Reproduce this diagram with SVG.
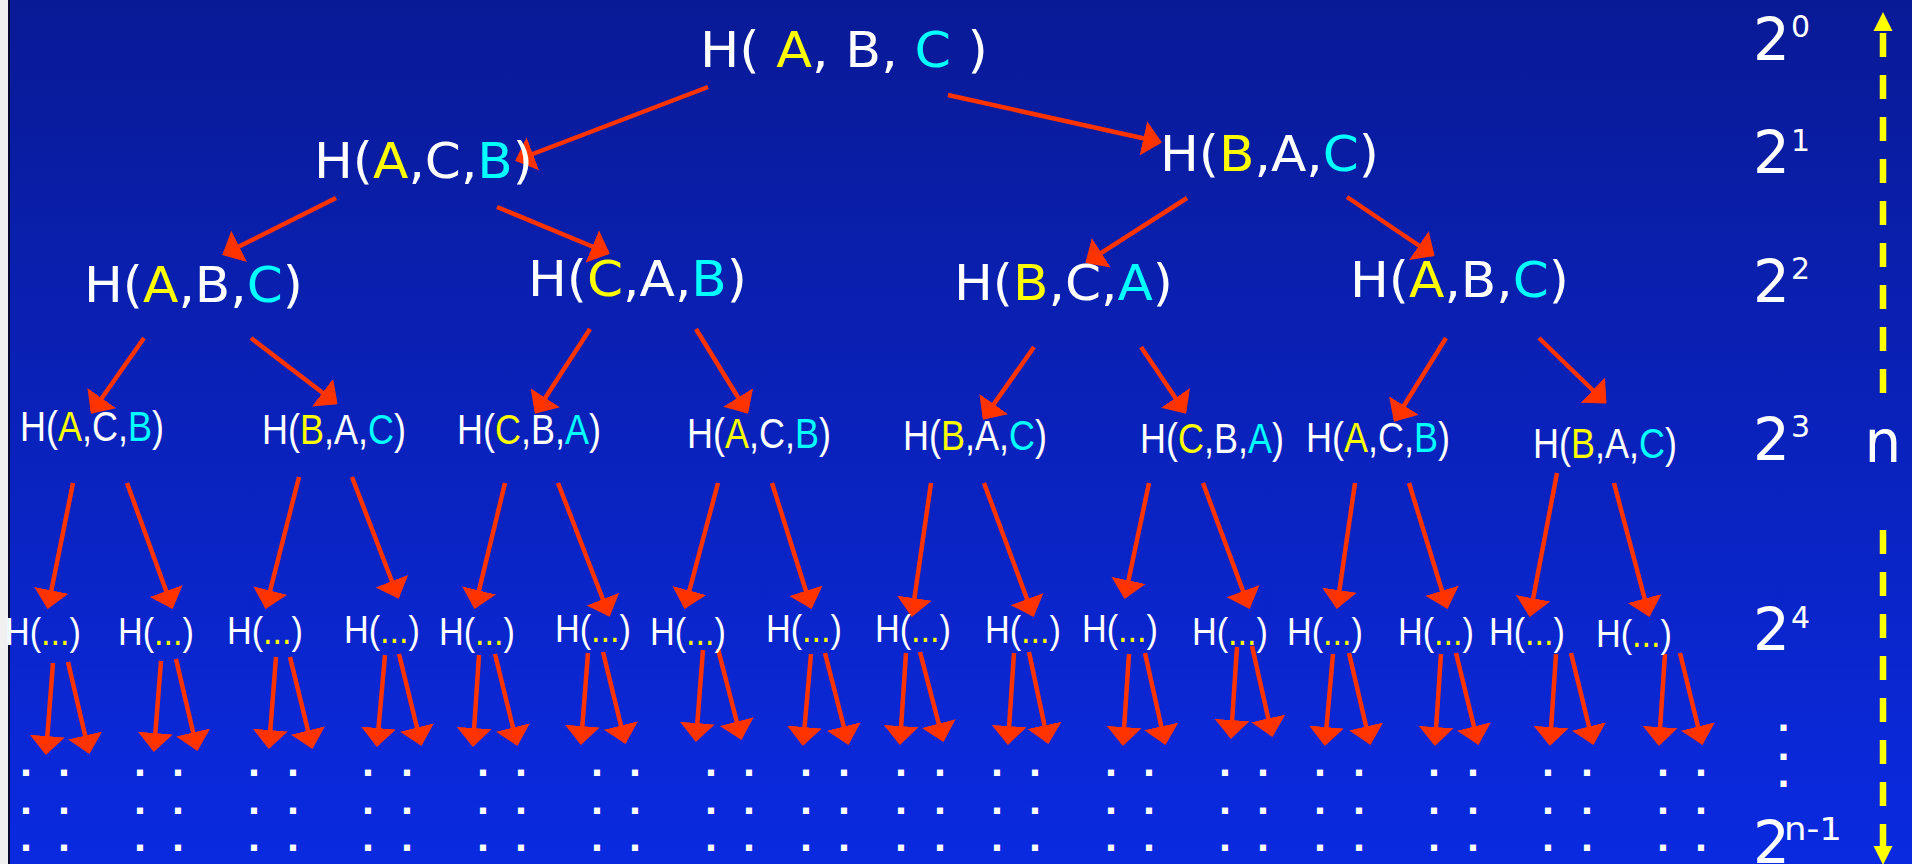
<svg xmlns="http://www.w3.org/2000/svg" width="1912" height="864" viewBox="0 0 1912 864">
<defs>
<linearGradient id="bg" x1="0" y1="0" x2="0" y2="1">
<stop offset="0" stop-color="#091a96"/>
<stop offset="1" stop-color="#0a2ae0"/>
</linearGradient>
<marker id="ah" markerUnits="userSpaceOnUse" viewBox="0 -18 19 36" markerWidth="19" markerHeight="36" refX="17" refY="0" orient="auto">
<path d="M0,-17.5 L19,0 L0,17.5 Z" fill="#ff3300"/>
</marker>
<marker id="yh" markerUnits="userSpaceOnUse" viewBox="0 -10 19 20" markerWidth="19" markerHeight="20" refX="0" refY="0" orient="auto">
<path d="M0,-9.5 L19,0 L0,9.5 Z" fill="#ffff00"/>
</marker>
<style>
.r{stroke:#ff3300;stroke-width:4.5;fill:none;marker-end:url(#ah)}
.big{font-family:"DejaVu Sans",Verdana,sans-serif;font-size:50px;fill:#ffffff}
.mid{font-family:"Liberation Sans",Arial,sans-serif;font-size:43px;fill:#ffffff}
.sm{font-family:"Liberation Sans",Arial,sans-serif;font-size:38px;fill:#ffffff}
.y{fill:#ffff00}
.c{fill:#00ffff}
.lbl{font-family:"DejaVu Sans",Verdana,sans-serif;font-size:58px;fill:#ffffff}
.sup{font-size:30px}
.dot{font-family:"DejaVu Sans",Verdana,sans-serif;font-weight:bold;font-size:34px;fill:#ffffff;text-anchor:middle}
.ya{stroke:#ffff00;stroke-width:6.5;stroke-dasharray:24 18;fill:none;marker-end:url(#yh)}
</style>
</defs>
<rect x="0" y="0" width="1912" height="864" fill="url(#bg)"/>
<rect x="0" y="0" width="8" height="864" fill="#f0f0f0"/>
<rect x="8" y="0" width="2" height="864" fill="#0a0a30"/>

<g id="connectors">
<line class="r" x1="708" y1="87" x2="517" y2="160"/>
<line class="r" x1="948" y1="95" x2="1160" y2="142"/>

<line class="r" x1="336" y1="198" x2="224" y2="254"/>
<line class="r" x1="497" y1="207" x2="608" y2="253"/>
<line class="r" x1="1187" y1="198" x2="1087" y2="262"/>
<line class="r" x1="1347" y1="197" x2="1433" y2="255"/>

<line class="r" x1="144" y1="338" x2="92" y2="412"/>
<line class="r" x1="251" y1="338" x2="336" y2="403"/>
<line class="r" x1="590" y1="329" x2="536" y2="412"/>
<line class="r" x1="696" y1="329" x2="747" y2="412"/>
<line class="r" x1="1034" y1="347" x2="984" y2="418"/>
<line class="r" x1="1141" y1="347" x2="1185" y2="412"/>
<line class="r" x1="1446" y1="338" x2="1395" y2="420"/>
<line class="r" x1="1539" y1="338" x2="1605" y2="402"/>

<line class="r" x1="73" y1="483" x2="48" y2="607"/>
<line class="r" x1="127" y1="483" x2="172" y2="607"/>
<line class="r" x1="299" y1="477" x2="266" y2="607"/>
<line class="r" x1="352" y1="477" x2="398" y2="597"/>
<line class="r" x1="505" y1="483" x2="475" y2="607"/>
<line class="r" x1="558" y1="483" x2="609" y2="615"/>
<line class="r" x1="718" y1="483" x2="685" y2="607"/>
<line class="r" x1="772" y1="483" x2="811" y2="607"/>
<line class="r" x1="931" y1="483" x2="912" y2="615"/>
<line class="r" x1="984" y1="483" x2="1033" y2="615"/>
<line class="r" x1="1149" y1="483" x2="1125" y2="597"/>
<line class="r" x1="1203" y1="483" x2="1249" y2="607"/>
<line class="r" x1="1355" y1="483" x2="1337" y2="607"/>
<line class="r" x1="1409" y1="483" x2="1447" y2="607"/>
<line class="r" x1="1557" y1="473" x2="1530" y2="615"/>
<line class="r" x1="1614" y1="483" x2="1649" y2="615"/>

<line class="r" x1="53" y1="663" x2="46" y2="753"/>
<line class="r" x1="68" y1="662" x2="89" y2="752"/>
<line class="r" x1="161" y1="661" x2="154" y2="750"/>
<line class="r" x1="176" y1="659" x2="197" y2="749"/>
<line class="r" x1="276" y1="657" x2="269" y2="747"/>
<line class="r" x1="290" y1="657" x2="312" y2="747"/>
<line class="r" x1="385" y1="655" x2="377" y2="745"/>
<line class="r" x1="399" y1="654" x2="421" y2="744"/>
<line class="r" x1="479" y1="655" x2="473" y2="745"/>
<line class="r" x1="495" y1="654" x2="517" y2="744"/>
<line class="r" x1="588" y1="653" x2="581" y2="743"/>
<line class="r" x1="603" y1="652" x2="625" y2="742"/>
<line class="r" x1="703" y1="650" x2="696" y2="740"/>
<line class="r" x1="718" y1="649" x2="741" y2="738"/>
<line class="r" x1="811" y1="654" x2="803" y2="744"/>
<line class="r" x1="825" y1="653" x2="848" y2="743"/>
<line class="r" x1="906" y1="653" x2="900" y2="743"/>
<line class="r" x1="920" y1="652" x2="943" y2="740"/>
<line class="r" x1="1014" y1="653" x2="1008" y2="743"/>
<line class="r" x1="1029" y1="652" x2="1048" y2="742"/>
<line class="r" x1="1129" y1="654" x2="1123" y2="744"/>
<line class="r" x1="1145" y1="653" x2="1165" y2="743"/>
<line class="r" x1="1237" y1="647" x2="1231" y2="737"/>
<line class="r" x1="1252" y1="646" x2="1272" y2="735"/>
<line class="r" x1="1333" y1="654" x2="1325" y2="744"/>
<line class="r" x1="1349" y1="653" x2="1370" y2="743"/>
<line class="r" x1="1441" y1="654" x2="1435" y2="744"/>
<line class="r" x1="1456" y1="653" x2="1478" y2="743"/>
<line class="r" x1="1556" y1="654" x2="1550" y2="744"/>
<line class="r" x1="1571" y1="653" x2="1593" y2="743"/>
<line class="r" x1="1665" y1="654" x2="1659" y2="744"/>
<line class="r" x1="1680" y1="653" x2="1702" y2="743"/>
</g>

<g id="n0"><text class="big" x="700" y="67" textLength="288" lengthAdjust="spacingAndGlyphs">H( <tspan class="y">A</tspan>, B, <tspan class="c">C</tspan> )</text></g>

<g id="n1a"><text class="big" x="314" y="178" textLength="219" lengthAdjust="spacingAndGlyphs">H(<tspan class="y">A</tspan>,C,<tspan class="c">B</tspan>)</text></g>
<g id="n1b"><text class="big" x="1160" y="171" textLength="219" lengthAdjust="spacingAndGlyphs">H(<tspan class="y">B</tspan>,A,<tspan class="c">C</tspan>)</text></g>

<g id="n2a"><text class="big" x="84" y="302" textLength="219" lengthAdjust="spacingAndGlyphs">H(<tspan class="y">A</tspan>,B,<tspan class="c">C</tspan>)</text></g>
<g id="n2b"><text class="big" x="528" y="296" textLength="219" lengthAdjust="spacingAndGlyphs">H(<tspan class="y">C</tspan>,A,<tspan class="c">B</tspan>)</text></g>
<g id="n2c"><text class="big" x="954" y="300" textLength="219" lengthAdjust="spacingAndGlyphs">H(<tspan class="y">B</tspan>,C,<tspan class="c">A</tspan>)</text></g>
<g id="n2d"><text class="big" x="1350" y="297" textLength="219" lengthAdjust="spacingAndGlyphs">H(<tspan class="y">A</tspan>,B,<tspan class="c">C</tspan>)</text></g>

<g id="n3a"><text class="mid" x="20" y="441" textLength="144" lengthAdjust="spacingAndGlyphs">H(<tspan class="y">A</tspan>,C,<tspan class="c">B</tspan>)</text></g>
<g id="n3b"><text class="mid" x="262" y="444" textLength="144" lengthAdjust="spacingAndGlyphs">H(<tspan class="y">B</tspan>,A,<tspan class="c">C</tspan>)</text></g>
<g id="n3c"><text class="mid" x="457" y="444" textLength="144" lengthAdjust="spacingAndGlyphs">H(<tspan class="y">C</tspan>,B,<tspan class="c">A</tspan>)</text></g>
<g id="n3d"><text class="mid" x="687" y="448" textLength="144" lengthAdjust="spacingAndGlyphs">H(<tspan class="y">A</tspan>,C,<tspan class="c">B</tspan>)</text></g>
<g id="n3e"><text class="mid" x="903" y="450" textLength="144" lengthAdjust="spacingAndGlyphs">H(<tspan class="y">B</tspan>,A,<tspan class="c">C</tspan>)</text></g>
<g id="n3f"><text class="mid" x="1140" y="453" textLength="144" lengthAdjust="spacingAndGlyphs">H(<tspan class="y">C</tspan>,B,<tspan class="c">A</tspan>)</text></g>
<g id="n3g"><text class="mid" x="1306" y="452" textLength="144" lengthAdjust="spacingAndGlyphs">H(<tspan class="y">A</tspan>,C,<tspan class="c">B</tspan>)</text></g>
<g id="n3h"><text class="mid" x="1533" y="458" textLength="144" lengthAdjust="spacingAndGlyphs">H(<tspan class="y">B</tspan>,A,<tspan class="c">C</tspan>)</text></g>

<g id="n4a"><text class="sm" x="5" y="645" textLength="76" lengthAdjust="spacingAndGlyphs">H(<tspan class="y">...</tspan>)</text></g>
<g id="n4b"><text class="sm" x="118" y="645" textLength="76" lengthAdjust="spacingAndGlyphs">H(<tspan class="y">...</tspan>)</text></g>
<g id="n4c"><text class="sm" x="227" y="644" textLength="76" lengthAdjust="spacingAndGlyphs">H(<tspan class="y">...</tspan>)</text></g>
<g id="n4d"><text class="sm" x="344" y="643" textLength="76" lengthAdjust="spacingAndGlyphs">H(<tspan class="y">...</tspan>)</text></g>
<g id="n4e"><text class="sm" x="439" y="645" textLength="76" lengthAdjust="spacingAndGlyphs">H(<tspan class="y">...</tspan>)</text></g>
<g id="n4f"><text class="sm" x="555" y="642" textLength="76" lengthAdjust="spacingAndGlyphs">H(<tspan class="y">...</tspan>)</text></g>
<g id="n4g"><text class="sm" x="650" y="645" textLength="76" lengthAdjust="spacingAndGlyphs">H(<tspan class="y">...</tspan>)</text></g>
<g id="n4h"><text class="sm" x="766" y="642" textLength="76" lengthAdjust="spacingAndGlyphs">H(<tspan class="y">...</tspan>)</text></g>
<g id="n4i"><text class="sm" x="875" y="642" textLength="76" lengthAdjust="spacingAndGlyphs">H(<tspan class="y">...</tspan>)</text></g>
<g id="n4j"><text class="sm" x="985" y="643" textLength="76" lengthAdjust="spacingAndGlyphs">H(<tspan class="y">...</tspan>)</text></g>
<g id="n4k"><text class="sm" x="1082" y="642" textLength="76" lengthAdjust="spacingAndGlyphs">H(<tspan class="y">...</tspan>)</text></g>
<g id="n4l"><text class="sm" x="1192" y="645" textLength="76" lengthAdjust="spacingAndGlyphs">H(<tspan class="y">...</tspan>)</text></g>
<g id="n4m"><text class="sm" x="1287" y="645" textLength="76" lengthAdjust="spacingAndGlyphs">H(<tspan class="y">...</tspan>)</text></g>
<g id="n4n"><text class="sm" x="1398" y="645" textLength="76" lengthAdjust="spacingAndGlyphs">H(<tspan class="y">...</tspan>)</text></g>
<g id="n4o"><text class="sm" x="1489" y="645" textLength="76" lengthAdjust="spacingAndGlyphs">H(<tspan class="y">...</tspan>)</text></g>
<g id="n4p"><text class="sm" x="1596" y="647" textLength="76" lengthAdjust="spacingAndGlyphs">H(<tspan class="y">...</tspan>)</text></g>

<g id="continuation">
<text class="dot" x="26 64 140 178 254 293 368 407 483 521 597 635 711 749 806 844 901 940 997 1035 1111 1149 1225 1263 1320 1359 1434 1473 1548 1587 1663 1701" y="776">................................</text>
<text class="dot" x="26 64 140 178 254 293 368 407 483 521 597 635 711 749 806 844 901 940 997 1035 1111 1149 1225 1263 1320 1359 1434 1473 1548 1587 1663 1701" y="814">................................</text>
<text class="dot" x="26 64 140 178 254 293 368 407 483 521 597 635 711 749 806 844 901 940 997 1035 1111 1149 1225 1263 1320 1359 1434 1473 1548 1587 1663 1701" y="851">................................</text>
</g>

<g id="levels">
<text class="lbl" x="1753" y="60">2<tspan class="sup" x="1791" y="37">0</tspan></text>
<text class="lbl" x="1753" y="173">2<tspan class="sup" x="1791" y="151">1</tspan></text>
<text class="lbl" x="1753" y="302">2<tspan class="sup" x="1791" y="279">2</tspan></text>
<text class="lbl" x="1753" y="460">2<tspan class="sup" x="1791" y="437">3</tspan></text>
<text class="lbl" x="1753" y="650">2<tspan class="sup" x="1791" y="628">4</tspan></text>
<text class="dot" x="1783.5" y="731">.</text>
<text class="dot" x="1783.5" y="760">.</text>
<text class="dot" x="1783.5" y="787">.</text>
<text class="lbl" x="1753" y="863">2<tspan class="sup" x="1784" y="840" textLength="58" lengthAdjust="spacingAndGlyphs" style="font-size:32px">n-1</tspan></text>
</g>

<g id="n-axis">
<line class="ya" x1="1883" y1="393" x2="1883" y2="31"/>
<line class="ya" x1="1883" y1="530" x2="1883" y2="846"/>
<text class="lbl" x="1883" y="462" text-anchor="middle">n</text>
</g>
</svg>
